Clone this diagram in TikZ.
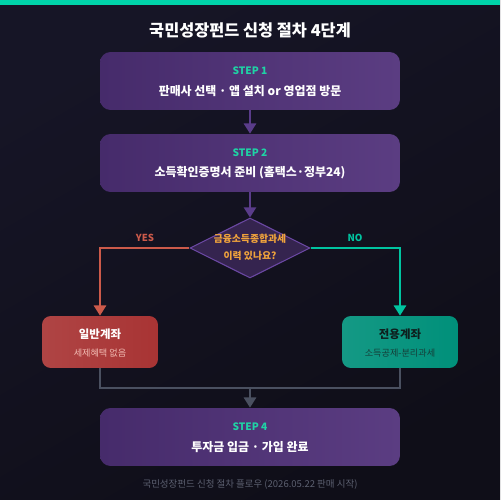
\documentclass[tikz,border=0pt]{standalone}
\usepackage{fontspec}
\setmainfont{Noto Sans CJK KR}
\usetikzlibrary{shapes.geometric,arrows.meta,positioning}
\definecolor{bgA}{HTML}{161526}
\definecolor{bgB}{HTML}{0F0E18}
\definecolor{topbar}{HTML}{00D4AA}
\definecolor{boxL}{HTML}{462B6B}
\definecolor{boxR}{HTML}{5B3D82}
\definecolor{steptxt}{HTML}{1FD3A5}
\definecolor{arrowpur}{HTML}{5A3C8A}
\definecolor{diafill}{HTML}{35244F}
\definecolor{diaedge}{HTML}{6B48A3}
\definecolor{diatxt}{HTML}{F0A33C}
\definecolor{yescol}{HTML}{CC5A4A}
\definecolor{nocol}{HTML}{00C4A0}
\definecolor{redbox}{HTML}{A83434}
\definecolor{redsub}{HTML}{F0B8B0}
\definecolor{tealbox}{HTML}{00907A}
\definecolor{tealtxt}{HTML}{0E1F1E}
\definecolor{tealsub}{HTML}{15403A}
\definecolor{graycol}{HTML}{4A5060}
\definecolor{foot}{HTML}{5C6070}
\tikzset{
  stepbox/.style={draw=none, rounded corners=6pt, left color=boxL, right color=boxR,
    minimum width=6cm, minimum height=1.16cm, inner sep=0pt},
  sidebox/.style={draw=none, rounded corners=5pt, minimum width=2.32cm, minimum height=1.04cm, inner sep=0pt},
  steplabel/.style={text=steptxt, font=\bfseries\fontsize{5.8pt}{7pt}\selectfont},
  maintext/.style={text=white, font=\bfseries\fontsize{6.8pt}{8pt}\selectfont},
  flow/.style={line width=1.1pt, -{Triangle[length=5.8pt,width=7pt]}},
  plainline/.style={line width=1.1pt},
}
\begin{document}
\begin{tikzpicture}[x=0.02cm,y=-0.02cm]
\useasboundingbox (0,0) rectangle (500,500);
\shade[top color=bgA, bottom color=bgB, shading angle=30] (0,0) rectangle (500,500);
\fill[topbar] (0,0) rectangle (500,5);
\node[text=white, font=\bfseries\fontsize{9.3pt}{11pt}\selectfont] (title) at (250,30) {국민성장펀드 신청 절차 4단계};
% step boxes
\node[stepbox] (b1) at (250,81) {};
\node[steplabel] (s1) at (250,71) {STEP 1};
\node[maintext] (t1) at (250,91) {판매사 선택 · 앱 설치 or 영업점 방문};
\node[stepbox] (b2) at (250,163) {};
\node[steplabel] (s2) at (250,153) {STEP 2};
\node[maintext] (t2) at (250,173) {소득확인증명서 준비 (홈택스·정부24)};
% diamond
\node[diamond, draw=diaedge, fill=diafill, line width=0.6pt, minimum width=2.4cm, minimum height=1.2cm, inner sep=0pt] (d) at (250,248) {};
\node[text=diatxt, font=\bfseries\fontsize{5.6pt}{6.5pt}\selectfont] (dt1) at (250,239) {금융소득종합과세};
\node[text=diatxt, font=\bfseries\fontsize{5.6pt}{6.5pt}\selectfont] (dt2) at (250,256) {이력 있나요?};
% side boxes
\node[sidebox, left color=redbox!92!white, right color=redbox] (lb) at (100,342) {};
\node[text=white, font=\bfseries\fontsize{6.5pt}{8pt}\selectfont] (lt1) at (100,334) {일반계좌};
\node[text=redsub, font=\fontsize{5.2pt}{6pt}\selectfont] (lt2) at (100,353) {세제혜택 없음};
\node[sidebox, left color=tealbox!92!white, right color=tealbox] (rb) at (400,342) {};
\node[text=tealtxt, font=\bfseries\fontsize{6.5pt}{8pt}\selectfont] (rt1) at (400,334) {전용계좌};
\node[text=tealsub, font=\fontsize{5.2pt}{6pt}\selectfont] (rt2) at (400,353) {소득공제-분리과세};
% step 4
\node[stepbox] (b4) at (250,437) {};
\node[steplabel] (s4) at (250,427) {STEP 4};
\node[maintext] (t4) at (250,447) {투자금 입금 · 가입 완료};
% footer
\node[text=foot, font=\fontsize{5.4pt}{6pt}\selectfont] (ft) at (250,484) {국민성장펀드 신청 절차 플로우 (2026.05.22 판매 시작)};
% connectors
\draw[flow, arrowpur] (b1.south) -- (b2.north);
\draw[flow, arrowpur] (b2.south) -- (d.north);
\coordinate (yc) at (100,248);
\coordinate (nc) at (400,248);
\draw[flow, yescol] (d.west) -- (yc) -- (lb.north);
\draw[flow, nocol] (d.east) -- (nc) -- (rb.north);
\node[text=yescol, font=\bfseries\fontsize{5.5pt}{6pt}\selectfont] (yes) at (145,238) {YES};
\node[text=nocol, font=\bfseries\fontsize{5.5pt}{6pt}\selectfont] (no) at (355,238) {NO};
\coordinate (ml) at (100,388);
\coordinate (mr) at (400,388);
\coordinate (mc) at (250,388);
\draw[plainline, graycol] (lb.south) -- (ml) -- (mr) -- (rb.south);
\draw[flow, graycol] (mc) -- (b4.north);
\end{tikzpicture}
\end{document}
